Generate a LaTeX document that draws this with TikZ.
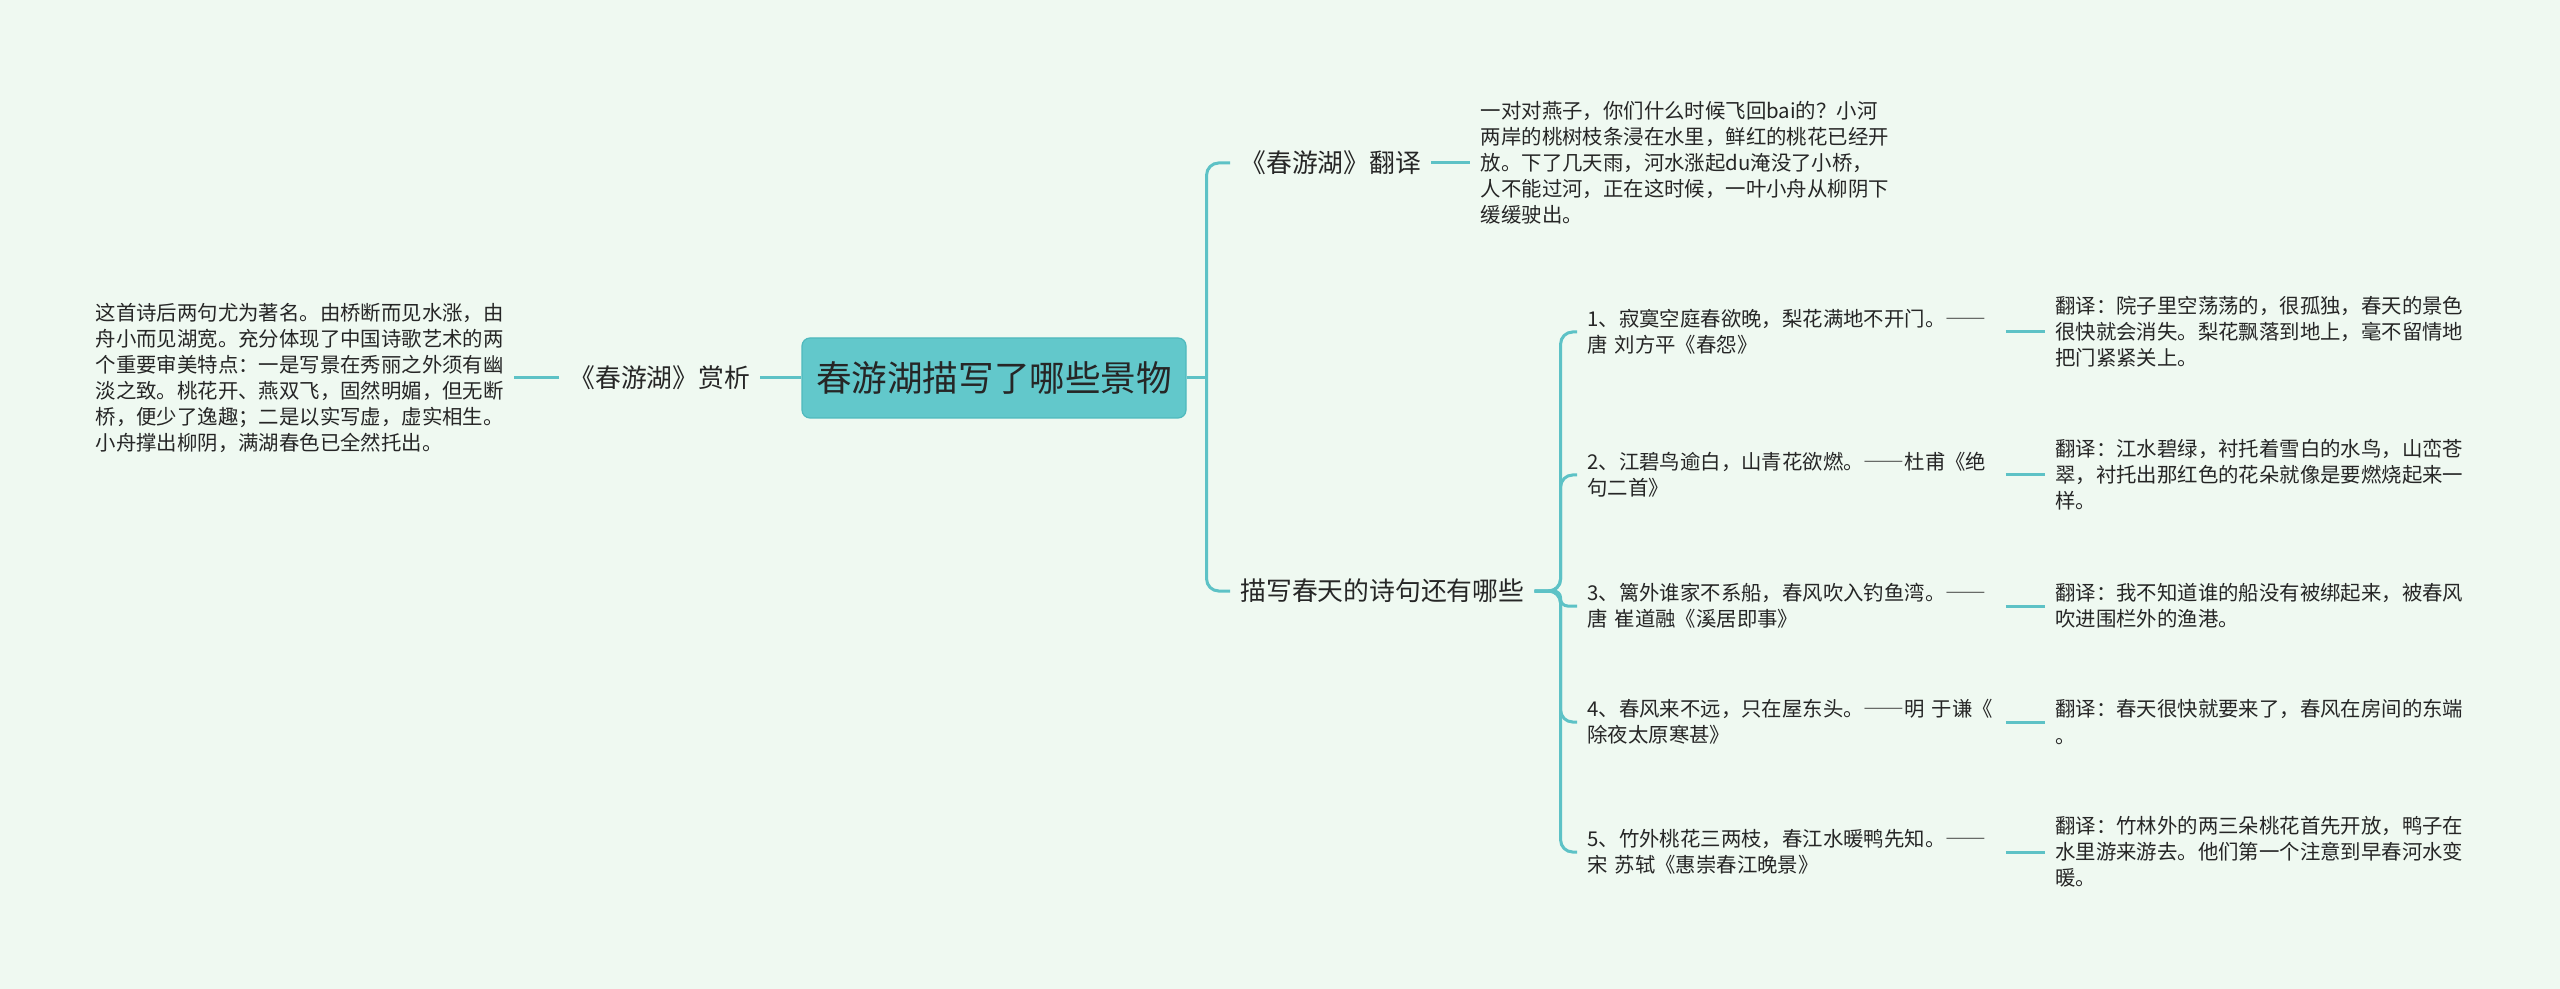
\documentclass[tikz,border=0pt]{standalone}
\usepackage{fontspec}
\setmainfont{Noto Sans CJK SC}
\newfontfamily\fwdash[RawFeature=+fwid]{Noto Sans CJK SC}
\newcommand{\zhdash}{{\fwdash ——}}
\usetikzlibrary{positioning}
\definecolor{bgc}{HTML}{EFF9F1}
\definecolor{lnk}{HTML}{5DC2C6}
\definecolor{rtf}{HTML}{62C8CB}
\definecolor{rte}{HTML}{4FB9BD}
\definecolor{ink}{HTML}{262626}

\begin{document}
\begin{tikzpicture}[
  x=0.5pt, y=-0.5pt,
  font=\fontsize{10.2}{13.05}\selectfont,
  root/.style={rounded corners=4pt, draw=rte, line width=0.6pt, fill=rtf, text=ink, inner sep=0pt,
               minimum width=192pt, minimum height=40pt, font=\fontsize{17.8}{21}\selectfont},
  topic/.style={inner xsep=5pt, inner ysep=2pt, text=ink, font=\fontsize{12.9}{15.5}\selectfont},
  leaf/.style={inner xsep=5pt, inner ysep=2pt, text=ink, align=left, text width=204pt},
  link/.style={draw=lnk, line width=1.5pt, rounded corners=6pt}
]
\fill[bgc] (0,0) rectangle (2560,989);

% ---------------------------------------------------------------- centre
\node[root] (root) at (994,378) {春游湖描写了哪些景物};

% ---------------------------------------------------------------- left side
\node[topic, left=20.5pt of root] (shang) {《春游湖》赏析};
\node[leaf, left=22.5pt of shang] (shangtxt)
  {这首诗后两句尤为著名。由桥断而见水涨，由\\舟小而见湖宽。充分体现了中国诗歌艺术的两\\个重要审美特点：一是写景在秀丽之外须有幽\\淡之致。桃花开、燕双飞，固然明媚，但无断\\桥，便少了逸趣；二是以实写虚，虚实相生。\\小舟撑出柳阴，满湖春色已全然托出。};
\draw[link] (root.west) -- (shang.east);
\draw[link] (shang.west) -- (shangtxt.east);

% ---------------------------------------------------------------- right side
\node[topic, anchor=west] (fanyi) at (1230,163) {《春游湖》翻译};
\node[leaf, right=19.5pt of fanyi] (fanyitxt)
  {一对对燕子，你们什么时候飞回bai的？小河\\两岸的桃树枝条浸在水里，鲜红的桃花已经开\\放。下了几天雨，河水涨起du淹没了小桥，\\人不能过河，正在这时候，一叶小舟从柳阴下\\缓缓驶出。};
\node[topic, anchor=west] (shiju) at (1230,591) {描写春天的诗句还有哪些};

% straight into the trunk, rounded only at its two ends
\coordinate (rj) at ([xshift=10pt]root.east);
\draw[link] (root.east) -- (rj);
\draw[link] (fanyi.west) -| (rj) |- (shiju.west);
\draw[link] (fanyi.east) -- (fanyitxt.west);

% ---------------------------------------------------------------- poem lines
\node[leaf, anchor=west] (s1) at (1577,332) {1、寂寞空庭春欲晚，梨花满地不开门。\zhdash\\唐 刘方平《春怨》};
\node[leaf, anchor=west] (s2) at (1577,475) {2、江碧鸟逾白，山青花欲燃。\zhdash 杜甫《绝\\句二首》};
\node[leaf, anchor=west] (s3) at (1577,606) {3、篱外谁家不系船，春风吹入钓鱼湾。\zhdash\\唐 崔道融《溪居即事》};
\node[leaf, anchor=west] (s4) at (1577,722) {4、春风来不远，只在屋东头。\zhdash 明 于谦《\\除夜太原寒甚》};
\node[leaf, anchor=west] (s5) at (1577,852) {5、竹外桃花三两枝，春江水暖鸭先知。\zhdash\\宋 苏轼《惠崇春江晚景》};

\node[leaf, right=19.5pt of s1] (y1) {翻译：院子里空荡荡的，很孤独，春天的景色\\很快就会消失。梨花飘落到地上，毫不留情地\\把门紧紧关上。};
\node[leaf, right=19.5pt of s2] (y2) {翻译：江水碧绿，衬托着雪白的水鸟，山峦苍\\翠，衬托出那红色的花朵就像是要燃烧起来一\\样。};
\node[leaf, right=19.5pt of s3] (y3) {翻译：我不知道谁的船没有被绑起来，被春风\\吹进围栏外的渔港。};
\node[leaf, right=19.5pt of s4] (y4) {翻译：春天很快就要来了，春风在房间的东端\\。};
\node[leaf, right=19.5pt of s5] (y5) {翻译：竹林外的两三朵桃花首先开放，鸭子在\\水里游来游去。他们第一个注意到早春河水变\\暖。};

\draw[link] (shiju.east) -- ++(13pt,0) |- (s1.west);
\draw[link] (shiju.east) -- ++(13pt,0) |- (s2.west);
\draw[link, rounded corners=3.5pt] (shiju.east) -- ++(13pt,0) |- (s3.west);
\draw[link] (shiju.east) -- ++(13pt,0) |- (s4.west);
\draw[link] (shiju.east) -- ++(13pt,0) |- (s5.west);

\draw[link] (s1.east) -- (y1.west);
\draw[link] (s2.east) -- (y2.west);
\draw[link] (s3.east) -- (y3.west);
\draw[link] (s4.east) -- (y4.west);
\draw[link] (s5.east) -- (y5.west);
\end{tikzpicture}
\end{document}
